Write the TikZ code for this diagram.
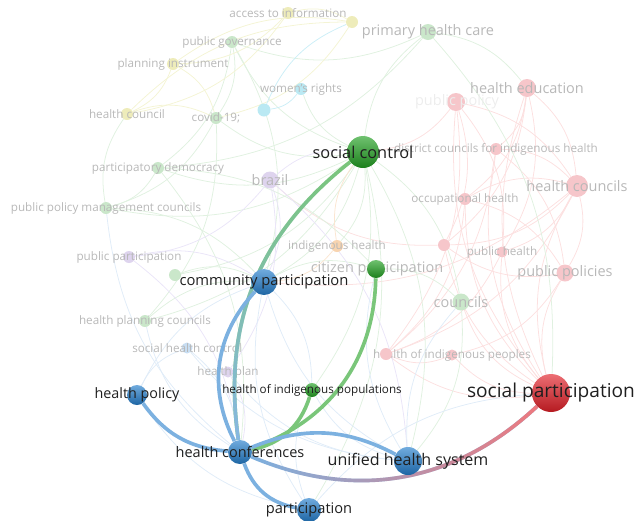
\documentclass[tikz,border=0pt]{standalone}
\usepackage{fontspec}
\setmainfont{Open Sans}
\usetikzlibrary{fadings}
\definecolor{vosred}{RGB}{226,32,40}
\definecolor{vosgreen}{RGB}{34,160,34}
\definecolor{vosblue}{RGB}{36,126,204}
\definecolor{pinkdot}{RGB}{246,198,202}
\definecolor{greendot}{RGB}{202,231,202}
\definecolor{yellowdot}{RGB}{238,236,186}
\definecolor{cyandot}{RGB}{186,233,243}
\definecolor{purpdot}{RGB}{222,212,238}
\definecolor{orangedot}{RGB}{248,212,176}
\definecolor{bluedot}{RGB}{200,222,243}
\definecolor{pinkln}{RGB}{252,224,224}
\definecolor{greenln}{RGB}{224,241,224}
\definecolor{yellowln}{RGB}{244,244,212}
\definecolor{cyanln}{RGB}{204,238,247}
\definecolor{purpln}{RGB}{234,229,248}
\definecolor{orangeln}{RGB}{251,230,210}
\definecolor{blueln}{RGB}{224,236,248}
\tikzfading[name=fadedown, top color=transparent!100, bottom color=transparent!0]
\tikzfading[name=faderight, left color=transparent!100, right color=transparent!0]
\pgfdeclarelayer{faint}
\pgfdeclarelayer{dim}
\pgfdeclarelayer{links}
\pgfsetlayers{faint,dim,links,main}
\tikzset{
		dot/.style 2 args = {circle, inner sep=0pt, minimum size=#2*0.25mm, fill=#1},
		hub/.style 2 args = {circle, inner sep=0pt, minimum size=#2*0.25mm,
		                     top color=#1!65!white, bottom color=#1!80!black},
		dim label/.style =  {inner sep=0pt, text=black!28, font=\fontsize{#1}{#1}\selectfont},
		hub label/.style =  {inner sep=0pt, text=black!88, font=\fontsize{#1}{#1}\selectfont},
		thread/.style =     {line width=0.55pt},
		strong/.style =     {line width=2.6pt}
}

\begin{document}
\begin{tikzpicture}[x=0.025cm, y=-0.025cm]
  \path[use as bounding box] (0,0) rectangle (638,520);

  % Draw faint nodes with their labels
  \begin{pgfonlayer}{dim}
    \foreach \n/\x/\y/\c/\d/\s/\t in {
        ai/288/13/yellowdot/12/8.3/access to information,
        phc/428/32/greendot/16/10.3/primary health care,
        pg/232/42/greendot/12/8.3/public governance,
        pi/173/64/yellowdot/12/8.3/planning instrument,
        hcl/127/114/yellowdot/12/8.3/health council,
        cov/216/118/greendot/12/8.3/covid-19;,
        wr/301/89/cyandot/12/8.3/women's rights,
        bra/270/180/purpdot/17/10.3/brazil,
        pd/158/168/greendot/12/8.3/participatory democracy,
        ppm/106/208/greendot/12/8.3/public policy management councils,
        pup/129/257/purpdot/12/8.3/public participation,
        hpc/145/321/greendot/12/8.3/health planning councils,
        shc/187/348/bluedot/11/8.3/social health control,
        hpl/228/372/purpdot/11/8.3/health plan,
        ih/337/246/orangedot/12/8.3/indigenous health,
        cou/461/302/greendot/17/10.3/councils,
        hipe/452/355/pinkdot/11/8.3/health of indigenous peoples,
        hed/527/88/pinkdot/18/10.3/health education,
        dci/496/149/pinkdot/12/8.3/district councils for indigenous health,
        hcs/577/186/pinkdot/22/10.3/health councils,
        oh/465/199/pinkdot/12/8.3/occupational health,
        ph/502/252/pinkdot/11/8.3/public health,
        pps/565/273/pinkdot/17/10.3/public policies}
      {\node [dot={\c}{\d}] (\n) at (\x,\y) {};
       \node [dim label=\s] (\n-t) at (\x,\y) {\t};}

    % Draw faint nodes without a readable label
    \foreach \n/\x/\y/\c/\d in {yel/352/22/yellowdot/12, cya/264/110/cyandot/13,
        grn/175/275/greendot/12, pk1/444/245/pinkdot/12, pk2/386/354/pinkdot/12,
        pop/456/102/pinkdot/18}
      \node [dot={\c}{\d}] (\n) at (\x,\y) {};
    \node [dim label=10.3, text=black!7] (pop-t) at (457,102) {public policy};
    \node [dim label=10.3] (citp-t) at (377,269) {citizen participation};
  \end{pgfonlayer}

  % Draw strong nodes with their labels
  \foreach \n/\x/\y/\c/\d/\s/\t in {
      sp/551/393/vosred/38/13.6/social participation,
      sc/363/152/vosgreen/32/11.6/social control,
      uhs/408/461/vosblue/28/11.4/unified health system,
      comm/264/282/vosblue/26/10.5/community participation,
      hcon/240/452/vosblue/24/10.3/health conferences,
      part/309/510/vosblue/24/10.4/participation,
      hpol/137/395/vosblue/20/10.2/health policy,
      hip/312/390/vosgreen/14/8.3/health of indigenous populations}
    {\node [hub={\c}{\d}] (\n) at (\x,\y) {};
     \node [hub label=\s] (\n-t) at (\x,\y) {\t};}
  \node [hub={vosgreen}{18}] (citp) at (376,269) {};

  % Draw faint links between clusters
  \begin{pgfonlayer}{faint}
    \foreach \a/\b in {sp/hed, sp/pop, sp/dci, sp/hcs, sp/oh, sp/pk1, sp/ph, sp/pps,
        sp/pk2, sp/hipe, sp/cou, hed/hcs, hed/dci, hed/pk1, hed/ph, hed/oh, pop/hcs,
        pop/pk1, pop/ph, pop/pk2, dci/hcs, dci/pps, dci/pk2, oh/hcs, oh/pps, oh/pk2,
        hcs/pk1, hcs/ph, hcs/pps, hcs/pk2, ph/pk2, pps/pk1, hipe/pk2, hcs/comm,
        pk1/bra, pps/hipe, pop/sc}
      \draw [thread, pinkln] (\a) to[bend left=22] (\b);
    \foreach \a/\b in {sc/phc, sc/pg, sc/cov, sc/pd, sc/ppm, sc/cou, sc/hpc, sc/grn,
        sc/ih, sc/uhs, sc/part, sc/hip, sc/wr, phc/pg, phc/pd, phc/hed, phc/sp, pg/pd,
        pg/cov, pd/ppm, pd/hcon, ppm/hcl, ppm/comm, pd/citp, cov/ppm, cov/hpc,
        grn/comm, hpc/comm, citp/cou, cou/uhs, comm/citp, pg/comm, sc/comm}
      \draw [thread, greenln] (\a) to[bend left=22] (\b);
    \foreach \a/\b in {ai/yel, ai/pi, ai/hcl, pi/hcl, hcl/yel, pi/yel, hcl/cov,
        yel/cov, pi/cov}
      \draw [thread, yellowln] (\a) to[bend left=22] (\b);
    \foreach \a/\b in {wr/cya, cya/yel}
      \draw [thread, cyanln] (\a) to[bend left=22] (\b);
    \foreach \a/\b in {bra/pup, bra/hpl, bra/comm, pup/hcon, bra/uhs, pup/comm,
        hpl/hcon, bra/sc}
      \draw [thread, purpln] (\a) to[bend left=22] (\b);
    \foreach \a/\b in {ih/comm, ih/sc}
      \draw [thread, orangeln] (\a) to[bend left=22] (\b);
    \foreach \a/\b in {uhs/comm, uhs/shc, uhs/hpl, part/comm, part/hpol, hpol/shc,
        hpol/comm, shc/hcon, hcon/ppm, uhs/citp, part/sp, hcon/hpc, comm/hip,
        uhs/hip, part/hip, uhs/cou}
      \draw [thread, blueln] (\a) to[bend left=22] (\b);
  \end{pgfonlayer}

  % Draw strong links into health conferences
  \begin{pgfonlayer}{links}
    \draw [strong, vosgreen!60!white] (sc) to[bend right=30] (hcon);
    \draw [strong, vosblue!55!white, path fading=fadedown] (sc) to[bend right=30] (hcon);
    \draw [strong, vosblue!60!white] (comm) to[bend right=35] (hcon);
    \draw [strong, vosgreen!60!white] (citp) to[bend left=35] (hcon);
    \draw [strong, vosgreen!60!white] (hip) to[bend left=30] (hcon);
    \draw [strong, vosblue!60!white] (hpol) to[bend right=25] (hcon);
    \draw [strong, vosblue!60!white] (hcon) to[bend left=25] (uhs);
    \draw [strong, vosblue!60!white] (hcon) to[bend right=30] (part);
    \draw [strong, vosblue!60!white] (hcon) to[bend right=33] (sp);
    \draw [strong, vosred!60!white, path fading=faderight] (hcon) to[bend right=33] (sp);
  \end{pgfonlayer}
\end{tikzpicture}
\end{document}
